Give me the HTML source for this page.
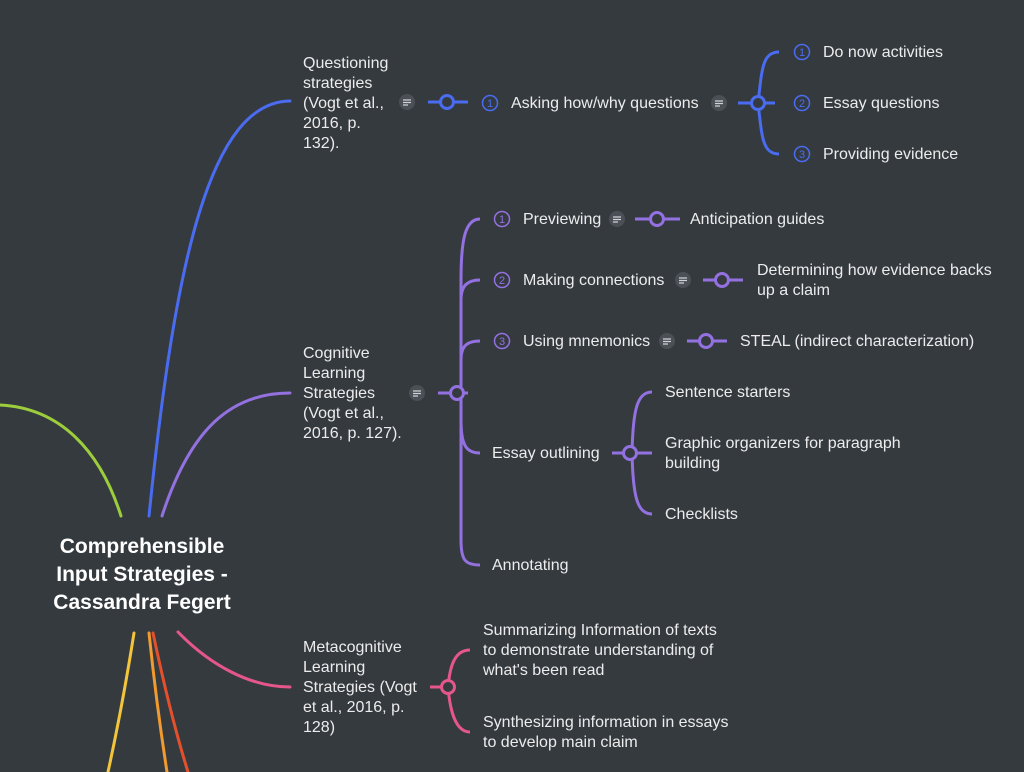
<!DOCTYPE html>
<html><head><style>
html,body{margin:0;padding:0;background:#353a3f;}
svg{display:block;}
text{font-family:"Liberation Sans",sans-serif;font-size:16px;fill:#ececec;}
.n{font-size:11px;}
</style></head><body>
<svg width="1024" height="772" viewBox="0 0 1024 772" xmlns="http://www.w3.org/2000/svg">
<rect width="1024" height="772" fill="#353a3f"/>
<g fill="none" stroke-width="3" stroke-linecap="round">
<path d="M0,405 C60,408 100,450 121,516" stroke="#9ccd3c"/>
<path d="M149,516 C175,260 210,102 290,101" stroke="#4a6cf0"/>
<path d="M162,516 C190,430 230,393 290,393" stroke="#9371e0"/>
<path d="M178,632 C210,665 250,687 290,687" stroke="#e5578a"/>
<path d="M134,633 C125,690 115,740 108,772" stroke="#f2c53a"/>
<path d="M149,633 C155,690 162,740 167,772" stroke="#f09a30"/>
<path d="M153,633 C165,690 178,740 188,772" stroke="#e5502c"/>
</g>
<text x="142" y="553" text-anchor="middle" style="font-size:21px;font-weight:bold;fill:#fff">Comprehensible</text>
<text x="142" y="581" text-anchor="middle" style="font-size:21px;font-weight:bold;fill:#fff">Input Strategies -</text>
<text x="142" y="609" text-anchor="middle" style="font-size:21px;font-weight:bold;fill:#fff">Cassandra Fegert</text>

<!-- Blue -->
<g fill="none" stroke="#4a6cf0" stroke-width="3">
<line x1="428" y1="102" x2="468" y2="102"/>
<circle cx="447" cy="102" r="6.5" fill="#353a3f"/>
<line x1="738" y1="103" x2="775" y2="103"/>
<path d="M758,103 C762,70 762,52 779,52 M758,103 C762,136 762,154 779,154"/>
<circle cx="758" cy="103" r="6.5" fill="#353a3f"/>
<circle cx="490" cy="103" r="7.5" stroke-width="1.5"/>
<circle cx="802" cy="52" r="7.5" stroke-width="1.5"/>
<circle cx="802" cy="103" r="7.5" stroke-width="1.5"/>
<circle cx="802" cy="154" r="7.5" stroke-width="1.5"/>
</g>
<text class="n" x="490" y="107" text-anchor="middle" style="fill:#4a6cf0">1</text><text class="n" x="802" y="56" text-anchor="middle" style="fill:#4a6cf0">1</text><text class="n" x="802" y="107" text-anchor="middle" style="fill:#4a6cf0">2</text><text class="n" x="802" y="158" text-anchor="middle" style="fill:#4a6cf0">3</text>
<text x="303" y="68">Questioning</text>
<text x="303" y="88">strategies</text>
<text x="303" y="108">(Vogt et al.,</text>
<text x="303" y="128">2016, p.</text>
<text x="303" y="148">132).</text>
<text x="511" y="108">Asking how/why questions</text>
<text x="823" y="57">Do now activities</text>
<text x="823" y="108">Essay questions</text>
<text x="823" y="159">Providing evidence</text>

<!-- notes -->
<g fill="#4b5056">
<circle cx="407" cy="102" r="8"/><circle cx="719" cy="103" r="8"/><circle cx="417" cy="393" r="8"/>
<circle cx="617" cy="219" r="8"/><circle cx="683" cy="280" r="8"/><circle cx="667" cy="341" r="8"/>
</g>
<g stroke="#cfd2d6" stroke-width="1.2">
<path d="M403,100h8M403,102.5h8M403,105h5"/><path d="M715,101h8M715,103.5h8M715,106h5"/><path d="M413,391h8M413,393.5h8M413,396h5"/>
<path d="M613,217h8M613,219.5h8M613,222h5"/><path d="M679,278h8M679,280.5h8M679,283h5"/><path d="M663,339h8M663,341.5h8M663,344h5"/>
</g>

<!-- Purple -->
<g fill="none" stroke="#9371e0" stroke-width="3">
<line x1="438" y1="393" x2="468" y2="393"/>
<path d="M480,219 C465,219 461,240 461,280 L461,540 C461,560 465,565 480,565"/>
<path d="M461,300 C461,285 468,280 480,280 M461,360 C461,345 468,341 480,341 M461,420 C461,445 466,453 480,453"/>
<circle cx="457" cy="393" r="6.5" fill="#353a3f"/>
<line x1="635" y1="219" x2="680" y2="219"/><circle cx="657" cy="219" r="6.5" fill="#353a3f"/>
<line x1="703" y1="280" x2="743" y2="280"/><circle cx="722" cy="280" r="6.5" fill="#353a3f"/>
<line x1="687" y1="341" x2="727" y2="341"/><circle cx="706" cy="341" r="6.5" fill="#353a3f"/>
<line x1="612" y1="453" x2="652" y2="453"/>
<path d="M652,392 C637,392 633,410 632,453 C633,496 637,514 652,514"/>
<circle cx="630" cy="453" r="6.5" fill="#353a3f"/>
<circle cx="502" cy="219" r="7.5" stroke-width="1.5"/>
<circle cx="502" cy="280" r="7.5" stroke-width="1.5"/>
<circle cx="502" cy="341" r="7.5" stroke-width="1.5"/>
</g>
<text class="n" x="502" y="223" text-anchor="middle" style="fill:#9371e0">1</text>
<text class="n" x="502" y="284" text-anchor="middle" style="fill:#9371e0">2</text>
<text class="n" x="502" y="345" text-anchor="middle" style="fill:#9371e0">3</text>
<text x="303" y="358">Cognitive</text>
<text x="303" y="378">Learning</text>
<text x="303" y="398">Strategies</text>
<text x="303" y="418">(Vogt et al.,</text>
<text x="303" y="438">2016, p. 127).</text>
<text x="523" y="224">Previewing</text>
<text x="690" y="224">Anticipation guides</text>
<text x="523" y="285">Making connections</text>
<text x="757" y="275">Determining how evidence backs</text>
<text x="757" y="295">up a claim</text>
<text x="523" y="346">Using mnemonics</text>
<text x="740" y="346">STEAL (indirect characterization)</text>
<text x="492" y="458">Essay outlining</text>
<text x="665" y="397">Sentence starters</text>
<text x="665" y="448">Graphic organizers for paragraph</text>
<text x="665" y="468">building</text>
<text x="665" y="519">Checklists</text>
<text x="492" y="570">Annotating</text>

<!-- Pink -->
<g fill="none" stroke="#e5578a" stroke-width="3">
<line x1="430" y1="687" x2="450" y2="687"/>
<path d="M470,650 C455,650 450,665 448,687 C450,710 455,732 470,732"/>
<circle cx="448" cy="687" r="6.5" fill="#353a3f"/>
</g>
<text x="303" y="652">Metacognitive</text>
<text x="303" y="672">Learning</text>
<text x="303" y="692">Strategies (Vogt</text>
<text x="303" y="712">et al., 2016, p.</text>
<text x="303" y="732">128)</text>
<text x="483" y="635">Summarizing Information of texts</text>
<text x="483" y="655">to demonstrate understanding of</text>
<text x="483" y="675">what's been read</text>
<text x="483" y="727">Synthesizing information in essays</text>
<text x="483" y="747">to develop main claim</text>
</svg>
</body></html>
